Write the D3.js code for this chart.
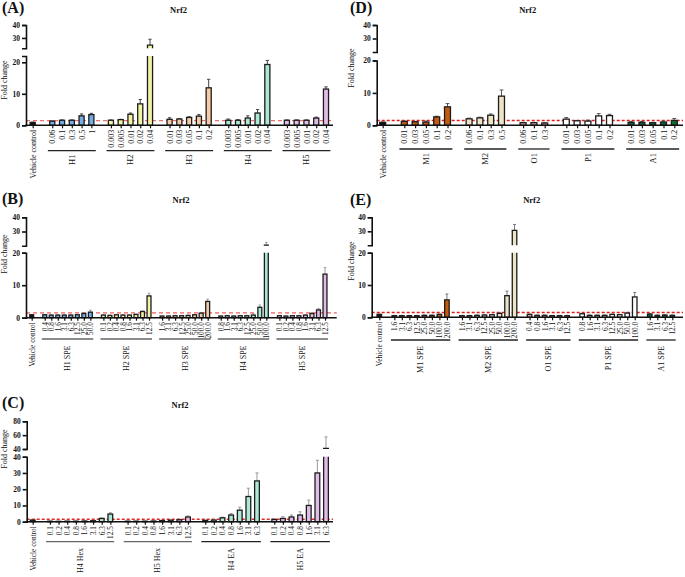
<!DOCTYPE html>
<html><head><meta charset="utf-8">
<script src="https://cdn.jsdelivr.net/npm/d3@7"></script>
<style>
body{margin:0;background:#fff}
svg{display:block}
text{font-family:"Liberation Serif","Times New Roman",serif;fill:#111}
</style>
</head><body>
<svg id="chart" width="685" height="577"></svg>
<script>
// ---------------- DATA ----------------
const vehicleLabel = "Vehicle control";
const thresholdValue = 1.5;
const chartTitle = "Nrf2";
const yTitle = "Fold change";

// Panel A
const aGroups = ["H1", "H2", "H3", "H4", "H5"];
const aDoses = [["0.06","0.1","0.3","0.5","1"],["0.003","0.005","0.01","0.02","0.04"],["0.01","0.03","0.05","0.1","0.2"],["0.003","0.005","0.01","0.02","0.04"],["0.003","0.005","0.01","0.02","0.04"]];
const aMeans = [[1.3,1.6,1.6,3.0,3.4],[1.6,1.8,3.5,6.8,24.5],[1.9,2.0,2.5,2.9,11.9],[1.6,1.6,2.3,3.9,19.3],[1.6,1.6,1.6,2.3,11.5]];
const aErrors = [[0.1,0.1,0.1,0.6,0.4],[0.1,0.1,0.4,1.4,4.5],[0.5,0.1,0.2,0.5,2.7],[0.4,0.2,0.7,1.1,1.3],[0.1,0.1,0.1,0.3,0.7]];
const aVehicle = [0.9, 0.1];
const aColors = ["#74aee6","#f3f3a6","#f6cca6","#ace8d6","#e2bce8"];

// Panel B
const bGroups = ["H1 SPE", "H2 SPE", "H3 SPE", "H4 SPE", "H5 SPE"];
const bDoses = [["0.4","0.8","1.6","3.1","6.3","12.5","25.0","50.0"],["0.1","0.2","0.4","0.8","1.6","3.1","6.3","12.5"],["1.6","3.1","6.3","12.5","25.0","50.0","100.0","200.0"],["0.8","1.6","3.1","6.3","12.5","25.0","50.0","100.0"],["0.1","0.2","0.4","0.8","1.6","3.1","6.3","12.5"]];
const bMeans = [[0.9,0.8,0.8,0.8,0.8,0.9,1.3,1.7],[0.8,0.7,0.9,0.8,0.8,1.0,1.9,6.7],[0.5,0.5,0.6,0.6,0.7,0.9,1.4,5.0],[0.5,0.6,0.5,0.6,0.6,0.8,3.2,20.4],[0.6,0.5,0.6,0.6,0.8,1.3,2.4,13.4]];
const bErrors = [[0.1,0.1,0.1,0.1,0.1,0.1,0.2,0.6],[0.1,0.1,0.1,0.1,0.1,0.1,0.2,0.8],[0.1,0.1,0.1,0.1,0.1,0.1,0.2,0.7],[0.1,0.1,0.1,0.1,0.1,0.4,0.7,2.0],[0.1,0.1,0.1,0.1,0.1,0.2,0.4,2.0]];
const bVehicle = [0.9, 0.1];
const bColors = ["#74aee6","#f3f3a6","#f6cca6","#ace8d6","#e2bce8"];

// Panel C
const cGroups = ["H4 Hex", "H5 Hex", "H4 EA", "H5 EA"];
const cDoses = [["0.1","0.2","0.4","0.8","1.6","3.1","6.3","12.5"],["0.1","0.2","0.4","0.8","1.6","3.1","6.3","12.5"],["0.1","0.2","0.4","0.8","1.6","3.1","6.3"],["0.1","0.2","0.4","0.8","1.6","3.1","6.3"]];
const cMeans = [[0.3,0.2,0.3,0.3,0.4,0.6,2.0,4.7],[0.3,0.3,0.3,0.4,0.7,0.9,1.2,2.9],[0.8,1.0,2.4,4.1,7.1,15.5,25.1],[1.4,2.0,2.9,4.1,10.0,30.0,41.0]];
const cErrors = [[0.1,0.1,0.1,0.1,0.1,0.1,0.3,0.8],[0.1,0.1,0.1,0.1,0.1,0.2,0.3,0.7],[0.1,0.2,0.4,0.9,1.8,5.1,4.9],[0.2,1.1,1.2,2.0,3.3,7.8,16.5]];
const cVehicle = [1.0, 0.1];
const cColors = ["#ace8d6","#e2bce8","#ace8d6","#e2bce8"];

// Panel D
const dGroups = ["M1", "M2", "O1", "P1", "A1"];
const dDoses = [["0.01","0.03","0.05","0.1","0.2"],["0.06","0.1","0.3","0.5"],["0.06","0.1","0.3"],["0.01","0.03","0.05","0.1","0.2"],["0.01","0.03","0.05","0.1","0.2"]];
const dMeans = [[1.2,1.1,1.0,2.6,5.7],[2.0,2.3,3.1,9.0],[0.8,0.8,0.7],[1.9,1.4,1.3,2.9,3.0],[0.9,0.9,0.8,1.0,1.5]];
const dErrors = [[0.1,0.1,0.3,0.2,1.0],[0.2,0.2,0.4,1.9],[0.1,0.1,0.1],[0.5,0.1,0.3,0.7,0.4],[0.3,0.3,0.1,0.3,0.6]];
const dVehicle = [0.9, 0.1];
const dColors = ["#c25c12","#ede4c6","#eaa9b9","#ffffff","#0d6a30"];

// Panel E
const eGroups = ["M1 SPE", "M2 SPE", "O1 SPE", "P1 SPE", "A1 SPE"];
const eDoses = [["1.6","3.1","6.3","12.5","25.0","50.0","100.0","200.0"],["1.6","3.1","6.3","12.5","25.0","50.0","100.0","200.0"],["0.4","0.8","1.6","3.1","6.3","12.5"],["0.8","1.6","3.1","6.3","12.5","25.0","50.0","100.0"],["1.6","3.1","6.3","12.5"]];
const eMeans = [[0.5,0.5,0.5,0.5,0.6,0.6,0.9,5.4],[0.5,0.5,0.6,0.7,0.8,1.2,6.7,30.7],[0.9,0.6,0.6,0.5,0.5,0.5],[1.1,0.6,0.6,0.6,0.9,0.8,1.3,6.3],[1.0,0.6,0.7,0.6]];
const eErrors = [[0.1,0.1,0.1,0.1,0.1,0.1,0.1,1.8],[0.1,0.1,0.1,0.1,0.1,0.2,1.4,4.2],[0.1,0.1,0.1,0.1,0.1,0.1],[0.1,0.1,0.1,0.1,0.1,0.1,0.2,1.4],[0.1,0.1,0.1,0.1]];
const eVehicle = [0.9, 0.1];
const eColors = ["#c25c12","#ede4c6","#eaa9b9","#ffffff","#0d6a30"];

const vehicleColor = "#111111";

// ---------------- DRAWING ----------------
const svg = d3.select("#chart");

function drawPanel(p) {
  const g = svg.append("g");
  const slots = [{key: "veh", label: vehicleLabel, mean: p.vehicle[0], err: p.vehicle[1], color: vehicleColor}];
  p.groups.forEach((gn, gi) => {
    slots.push({key: "gap" + gi, blank: true});
    p.doses[gi].forEach((d, di) => slots.push({key: gn + "|" + d, label: d, mean: p.means[gi][di], err: p.errors[gi][di], color: p.colors[gi], gi: gi}));
  });
  const x = d3.scalePoint().domain(slots.map(s => s.key)).range([p.c0, p.cN]);
  const step = x.step();
  const bw = step * p.barFrac;
  const yLow = d3.scaleLinear().domain([0, p.brkLow]).range([p.y0, p.yLowTop]);
  const yUp = d3.scaleLinear().domain([p.brkUp, p.yMax]).range([p.yUpBottom, p.yTop]);
  const Y = v => v <= p.brkLow ? yLow(v) : yUp(Math.max(v, p.brkUp));

  // threshold line
  g.append("line")
    .attr("x1", p.axisX).attr("x2", p.xEnd)
    .attr("y1", yLow(thresholdValue)).attr("y2", yLow(thresholdValue))
    .attr("stroke", p.redColor).attr("stroke-width", 1.4)
    .attr("stroke-dasharray", p.redDash);

  const bars = slots.filter(s => !s.blank);
  const sc = "#1c1c1c", sw = 1.3;
  bars.forEach(s => {
    const cx = x(s.key), x0 = cx - bw / 2, x1 = cx + bw / 2;
    if (s.err > 0) {
      const yt = Y(s.mean + s.err), yb = Y(s.mean);
      g.append("line").attr("x1", cx).attr("x2", cx).attr("y1", yb).attr("y2", yt)
        .attr("stroke", p.errColor).attr("stroke-width", 1);
      g.append("line").attr("x1", cx - bw * 0.32).attr("x2", cx + bw * 0.32).attr("y1", yt).attr("y2", yt)
        .attr("stroke", p.errColor).attr("stroke-width", 1);
    }
    if (s.mean <= p.brkLow) {
      g.append("rect").attr("x", x0).attr("y", yLow(s.mean)).attr("width", bw)
        .attr("height", Math.max(0.1, p.y0 - yLow(s.mean)))
        .attr("fill", s.color).attr("stroke", sc).attr("stroke-width", sw);
    } else {
      g.append("rect").attr("x", x0).attr("y", p.yLowTop).attr("width", bw)
        .attr("height", p.y0 - p.yLowTop).attr("fill", s.color);
      g.append("path").attr("d", `M${x0},${p.yLowTop}V${p.y0}H${x1}V${p.yLowTop}`)
        .attr("fill", "none").attr("stroke", sc).attr("stroke-width", sw);
      const yt = yUp(s.mean);
      g.append("rect").attr("x", x0).attr("y", yt).attr("width", bw)
        .attr("height", p.yUpBottom - yt).attr("fill", s.color);
      g.append("path").attr("d", `M${x0},${p.yUpBottom}V${yt}H${x1}V${p.yUpBottom}`)
        .attr("fill", "none").attr("stroke", sc).attr("stroke-width", sw);
    }
  });

  // y axes (broken)
  const styleAxis = (sel) => {
    sel.attr("font-family", null).attr("font-size", null);
    sel.selectAll("path.domain").attr("stroke", "#111").attr("stroke-width", 1.6);
    sel.selectAll(".tick line").attr("stroke", "#111").attr("stroke-width", 1.6);
    sel.selectAll(".tick text").attr("font-size", p.yFont).attr("font-weight", "bold")
      .attr("fill", "#111").style("fill", "#111");
  };
  g.append("g").attr("transform", `translate(${p.axisX},0)`)
    .call(d3.axisLeft(yLow).tickValues(p.lowTicks).tickSize(4).tickSizeOuter(4).tickPadding(2).tickFormat(d3.format("d")))
    .call(styleAxis);
  g.append("g").attr("transform", `translate(${p.axisX},0)`)
    .call(d3.axisLeft(yUp).tickValues(p.upTicks).tickSize(4).tickSizeOuter(4).tickPadding(2).tickFormat(d3.format("d")))
    .call(styleAxis);

  // x axis
  const xa = g.append("g").attr("transform", `translate(0,${p.y0})`)
    .call(d3.axisBottom(x).tickValues(bars.map(s => s.key)).tickSize(3)
      .tickFormat(k => slots.find(s => s.key === k).label));
  xa.attr("font-family", null).attr("font-size", null);
  xa.select("path.domain").remove();
  xa.selectAll(".tick line").attr("stroke", "#111").attr("stroke-width", 1.2);
  xa.selectAll(".tick text")
    .attr("transform", "rotate(-90)").attr("x", -4.5).attr("y", 0).attr("dy", "0.33em")
    .style("text-anchor", "end").attr("font-size", p.xFont).style("fill", "#111");
  g.append("line").attr("x1", p.axisX - 0.8).attr("x2", p.xEnd).attr("y1", p.y0).attr("y2", p.y0)
    .attr("stroke", "#111").attr("stroke-width", 1.6);

  // group lines and labels
  p.groups.forEach((gn, gi) => {
    const first = x(gn + "|" + p.doses[gi][0]);
    const last = x(gn + "|" + p.doses[gi][p.doses[gi].length - 1]);
    g.append("line").attr("x1", first - step * 0.45).attr("x2", last + step * 0.45)
      .attr("y1", p.groupLineY).attr("y2", p.groupLineY)
      .attr("stroke", p.groupLineColors[gi]).attr("stroke-width", 1.3);
    g.append("text").attr("transform", `translate(${(first + last) / 2},${p.groupLabelY}) rotate(-90)`)
      .attr("dy", "0.33em").style("text-anchor", "end")
      .attr("font-size", p.groupFont).text(gn);
  });

  // titles
  g.append("text").attr("x", p.titleX).attr("y", p.titleY).attr("text-anchor", "middle")
    .attr("font-weight", "bold").attr("font-size", 8.5).text(chartTitle);
  g.append("text").attr("x", p.labelX).attr("y", p.labelY)
    .attr("font-weight", "bold").attr("font-size", 16).text(p.label);
  g.append("text").attr("transform", `translate(${p.yTitleX},${p.yTitleY}) rotate(-90)`)
    .attr("text-anchor", "middle").attr("font-size", 8).text(yTitle);
}

drawPanel({label: "(A)", groups: aGroups, doses: aDoses, means: aMeans, errors: aErrors, vehicle: aVehicle, colors: aColors,
  c0: 32.7, cN: 326, barFrac: 0.52, axisX: 26, xEnd: 333,
  y0: 125.3, brkLow: 22, yLowTop: 56, brkUp: 22, yMax: 40, yUpBottom: 48.3, yTop: 25,
  lowTicks: [0, 10, 20], upTicks: [30, 40], yFont: 7.5, xFont: 8, groupFont: 8.5,
  groupLineY: 150.7, groupLabelY: 154.5, groupLineColors: ["#222","#222","#222","#222","#222"],
  errColor: "#444", redColor: "#ef6f6f", redDash: "4,3",
  titleX: 178.5, titleY: 13, labelX: 2, labelY: 13, yTitleX: 7, yTitleY: 80});

drawPanel({label: "(B)", groups: bGroups, doses: bDoses, means: bMeans, errors: bErrors, vehicle: bVehicle, colors: bColors,
  c0: 31.7, cN: 325, barFrac: 0.6, axisX: 26, xEnd: 336.7,
  y0: 317.7, brkLow: 20, yLowTop: 252.7, brkUp: 20, yMax: 40, yUpBottom: 245.7, yTop: 217.3,
  lowTicks: [0, 10, 20], upTicks: [30, 40], yFont: 7.5, xFont: 7.3, groupFont: 8,
  groupLineY: 339, groupLabelY: 345.5, groupLineColors: ["#666","#666","#666","#666","#666"],
  errColor: "#999", redColor: "#ef5f5f", redDash: "4,3",
  titleX: 181, titleY: 203, labelX: 2, labelY: 204, yTitleX: 7, yTitleY: 254});

drawPanel({label: "(C)", groups: cGroups, doses: cDoses, means: cMeans, errors: cErrors, vehicle: cVehicle, colors: cColors,
  c0: 32.7, cN: 326, barFrac: 0.55, axisX: 26.7, xEnd: 333,
  y0: 521.7, brkLow: 40, yLowTop: 456.7, brkUp: 40, yMax: 80, yUpBottom: 449, yTop: 421.3,
  lowTicks: [0, 10, 20, 30, 40], upTicks: [40, 60, 80], yFont: 7.5, xFont: 7.3, groupFont: 8,
  groupLineY: 541.7, groupLabelY: 548, groupLineColors: ["#666","#666","#222","#222"],
  errColor: "#999", redColor: "#e02a2a", redDash: "3,2",
  titleX: 180, titleY: 408, labelX: 2, labelY: 408, yTitleX: 7, yTitleY: 449});

drawPanel({label: "(D)", groups: dGroups, doses: dDoses, means: dMeans, errors: dErrors, vehicle: dVehicle, colors: dColors,
  c0: 382.7, cN: 674.3, barFrac: 0.55, axisX: 376.7, xEnd: 683,
  y0: 125.3, brkLow: 20, yLowTop: 60.5, brkUp: 20, yMax: 40, yUpBottom: 52, yTop: 25,
  lowTicks: [0, 10, 20], upTicks: [30, 40], yFont: 7.5, xFont: 8, groupFont: 8.5,
  groupLineY: 149, groupLabelY: 153, groupLineColors: ["#222","#222","#222","#222","#222"],
  errColor: "#555", redColor: "#e02020", redDash: "3,2",
  titleX: 527.7, titleY: 13, labelX: 350, labelY: 13, yTitleX: 354, yTitleY: 68});

drawPanel({label: "(E)", groups: eGroups, doses: eDoses, means: eMeans, errors: eErrors, vehicle: eVehicle, colors: eColors,
  c0: 379.3, cN: 672.3, barFrac: 0.6, axisX: 371.7, xEnd: 683,
  y0: 317.3, brkLow: 20, yLowTop: 252.7, brkUp: 20, yMax: 40, yUpBottom: 245.3, yTop: 217.3,
  lowTicks: [0, 10, 20], upTicks: [30, 40], yFont: 7.5, xFont: 7.3, groupFont: 8,
  groupLineY: 340, groupLabelY: 346, groupLineColors: ["#222","#222","#222","#222","#222"],
  errColor: "#777", redColor: "#e02020", redDash: "3,2",
  titleX: 531.7, titleY: 203, labelX: 350, labelY: 205, yTitleX: 354, yTitleY: 261});
</script>
</body></html>
